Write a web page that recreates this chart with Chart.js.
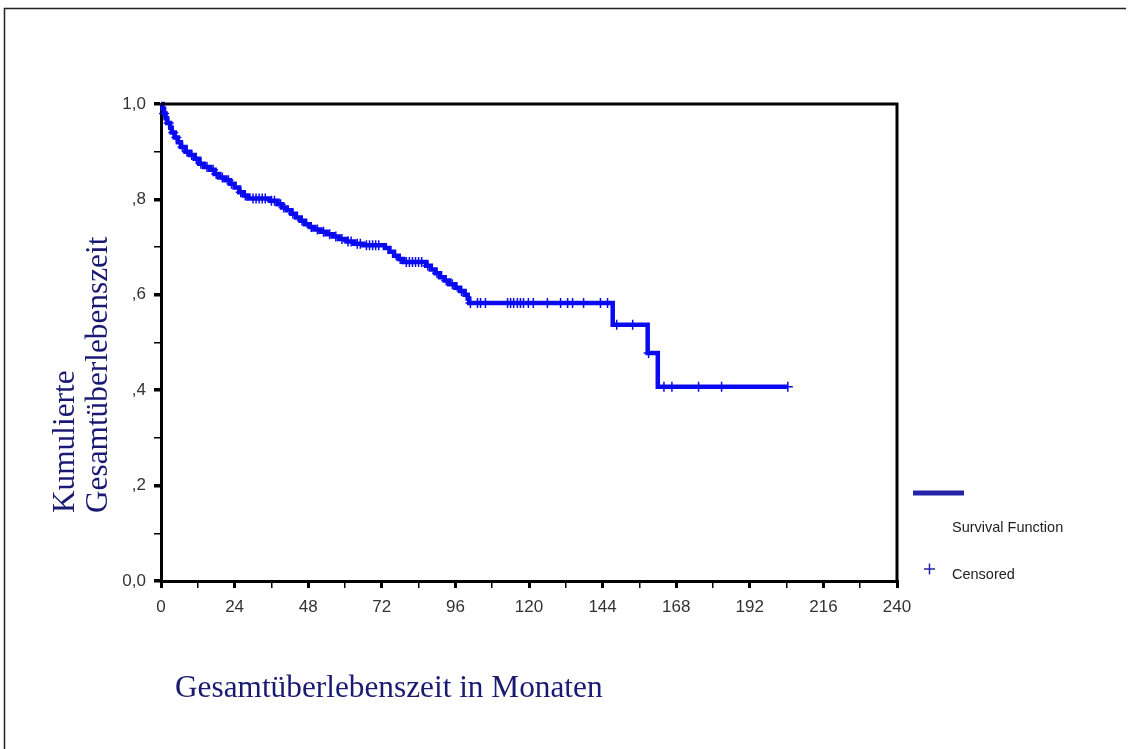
<!DOCTYPE html>
<html>
<head>
<meta charset="utf-8">
<script src="https://cdn.jsdelivr.net/npm/chart.js@4/dist/chart.umd.min.js"></script>
<style>
  html, body { margin: 0; padding: 0; background: #fff; }
  canvas { display: block; }
</style>
</head>
<body>
<canvas id="km" width="1128" height="749"></canvas>
<script>
// Kaplan-Meier Stufen: Zeit (Monate) und kumulierte Überlebensrate nach dem Ereignis
const eventMonths = [0, 0.5, 1, 1.5, 2, 3, 3.5, 4.5, 5.5, 6.5, 8, 9.5, 11, 12.5, 14, 16, 17.5, 19, 21, 22.5,
  24, 25.5, 27, 28.5, 35.5, 38, 39.5, 41, 42.5, 44, 45.5, 47, 48.5, 50, 52, 54, 56, 58, 60.5, 63,
  66, 73, 74.5, 76, 77.5, 79, 86.5, 88, 89.5, 91, 92.5, 94, 96, 97.5, 99, 100, 100.5, 147.3, 158.7, 162, 204.4];
const survival = [1.0, 0.99, 0.98, 0.97, 0.96, 0.95, 0.94, 0.93, 0.92, 0.91, 0.90, 0.893, 0.885, 0.875, 0.868, 0.862, 0.853, 0.846, 0.84, 0.833,
  0.825, 0.815, 0.808, 0.802, 0.797, 0.79, 0.783, 0.777, 0.77, 0.762, 0.755, 0.748, 0.742, 0.737, 0.732, 0.727, 0.722, 0.717, 0.712, 0.707,
  0.704, 0.698, 0.69, 0.682, 0.675, 0.669, 0.661, 0.653, 0.645, 0.637, 0.63, 0.622, 0.615, 0.608, 0.6, 0.592, 0.583, 0.537, 0.478, 0.407, 0.407];

// zensierte Fälle (Monate)
const censoredMonths = [1, 2.5, 4, 5, 7, 8.5, 10, 11.5, 13, 15, 17, 18, 20, 22, 23, 26, 27.5, 30, 31, 32, 33, 34,
  36, 37, 39, 40, 43, 46, 49, 51, 53, 55, 57, 59, 61, 62, 64, 65, 67, 68, 69, 70, 71,
  78, 80, 81, 82, 83, 84, 85, 87, 90, 93, 95, 98,
  100.9, 103.2, 104.2, 105.8, 113, 114, 115, 116.2, 117.2, 118.2, 119.8, 121.4, 126, 130.3, 132.6, 134.2, 137.8, 143.3, 145.6,
  148.6, 153.8, 159, 164, 166.6, 175.3, 182.8, 204.4];

const xTicks = [0, 24, 48, 72, 96, 120, 144, 168, 192, 216, 240];
const yTickLabels = { 0: "0,0", 2: ",2", 4: ",4", 6: ",6", 8: ",8", 10: "1,0" };

const yTitle = ["Kumulierte", "Gesamtüberlebenszeit"];
const xTitle = "Gesamtüberlebenszeit in Monaten";
const legendLabels = ["Survival Function", "Censored"];

const curveColor = "#0a0af0";
const titleColor = "#1a1a72";

const curve = eventMonths.map((t, i) => ({ x: t, y: survival[i] }));

// y des zensierten Falls = Stufe der Kurve zu diesem Zeitpunkt
function survivalAt(t) {
  let s = survival[0];
  for (let i = 0; i < eventMonths.length; i++) {
    if (eventMonths[i] <= t) s = survival[i];
  }
  return s;
}
const censored = censoredMonths.map(t => ({ x: t, y: survivalAt(t) }));

// Rahmen, Achsentitel und Legende
const decorations = {
  id: "decorations",
  afterDraw(chart) {
    const { ctx, chartArea: a } = chart;
    ctx.save();

    // äußerer Bildrahmen
    ctx.strokeStyle = "#222";
    ctx.lineWidth = 1.5;
    ctx.beginPath();
    ctx.moveTo(4.5, 760);
    ctx.lineTo(4.5, 8.5);
    ctx.lineTo(1126, 8.5);
    ctx.stroke();

    // obere und rechte Begrenzung des Plotbereichs
    ctx.strokeStyle = "#000";
    ctx.lineWidth = 3;
    ctx.beginPath();
    ctx.moveTo(a.left, a.top);
    ctx.lineTo(a.right, a.top);
    ctx.lineTo(a.right, a.bottom);
    ctx.stroke();

    // y-Achsentitel (zweizeilig, gedreht)
    ctx.fillStyle = titleColor;
    ctx.font = "31.3px 'Liberation Serif', 'Times New Roman', serif";
    ctx.textAlign = "left";
    ctx.textBaseline = "alphabetic";
    ctx.save();
    ctx.translate(74, 513);
    ctx.rotate(-Math.PI / 2);
    ctx.fillText(yTitle[0], 0, 0);
    ctx.fillText(yTitle[1], 0, 33);
    ctx.restore();

    // x-Achsentitel
    ctx.fillText(xTitle, 175, 697);

    // Legende
    ctx.strokeStyle = "#2424a8";
    ctx.lineWidth = 5;
    ctx.beginPath();
    ctx.moveTo(913, 493);
    ctx.lineTo(964, 493);
    ctx.stroke();

    ctx.fillStyle = "#222";
    ctx.font = "14.5px 'Liberation Sans', Arial, sans-serif";
    ctx.textBaseline = "middle";
    ctx.fillText(legendLabels[0], 952, 528);
    ctx.fillText(legendLabels[1], 952, 575);

    ctx.strokeStyle = "#2424a8";
    ctx.lineWidth = 1.5;
    ctx.beginPath();
    ctx.moveTo(924, 569);
    ctx.lineTo(935, 569);
    ctx.moveTo(929.5, 563.5);
    ctx.lineTo(929.5, 574.5);
    ctx.stroke();

    ctx.restore();
  }
};

const tickFont = { family: "'Liberation Sans', Arial, sans-serif", size: 17 };

new Chart(document.getElementById("km"), {
  type: "line",
  data: {
    datasets: [
      {
        label: legendLabels[0],
        data: curve,
        stepped: "before",
        borderColor: curveColor,
        borderWidth: 4.5,
        pointRadius: 0,
        fill: false,
        clip: 6
      },
      {
        label: legendLabels[1],
        type: "scatter",
        data: censored,
        pointStyle: "cross",
        pointRadius: 5,
        borderColor: curveColor,
        borderWidth: 1.5,
        showLine: false,
        clip: 6
      }
    ]
  },
  options: {
    responsive: false,
    animation: false,
    layout: { padding: { top: 104, right: 231, left: 0, bottom: 0 } },
    plugins: { legend: { display: false }, tooltip: { enabled: false } },
    scales: {
      x: {
        type: "linear",
        min: 0,
        max: 240,
        afterFit: s => { s.height = 168; },
        ticks: {
          stepSize: 12,
          autoSkip: false,
          maxRotation: 0,
          padding: 9,
          color: "#333",
          font: tickFont,
          callback: v => (xTicks.includes(v) ? String(v) : "")
        },
        grid: {
          drawOnChartArea: false,
          tickLength: 7,
          color: "#000",
          lineWidth: c => (c.tick && c.tick.value % 24 === 0 ? 3 : 1.5)
        },
        border: { color: "#000", width: 3 }
      },
      y: {
        min: 0,
        max: 1,
        afterFit: s => { s.width = 161; },
        ticks: {
          stepSize: 0.1,
          autoSkip: false,
          padding: 8,
          color: "#333",
          font: tickFont,
          callback: v => {
            const k = Math.round(v * 10);
            return yTickLabels[k] !== undefined ? yTickLabels[k] : "";
          }
        },
        grid: {
          drawOnChartArea: false,
          tickLength: 7,
          color: "#000",
          lineWidth: c => (c.tick && Math.round(c.tick.value * 10) % 2 === 0 ? 3.5 : 1.5)
        },
        border: { color: "#000", width: 3 }
      }
    }
  },
  plugins: [decorations]
});
</script>
</body>
</html>
